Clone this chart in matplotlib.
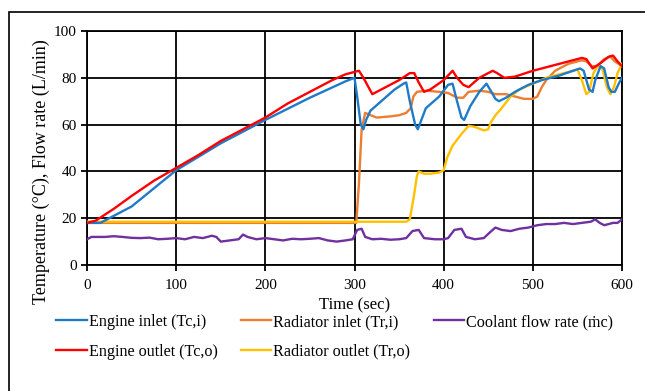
import matplotlib
matplotlib.use("Agg")
import matplotlib.pyplot as plt
from matplotlib.patches import Rectangle

plt.rcParams["font.family"] = ["Liberation Serif", "DejaVu Serif"]

# Engine inlet (Tc,i)
t_ei = [0, 15, 20, 50, 100, 150, 200, 250, 290, 300, 303, 307, 310, 313, 318, 330, 345, 355, 358,
        362, 368, 371, 375, 380, 395, 405, 410, 415, 420, 423, 430, 440, 448, 452, 458, 462, 470,
        480, 495, 510, 530, 545, 553, 557, 563, 567, 570, 576, 580, 585, 588, 592, 597, 600]
v_ei = [18, 18, 19, 25, 40.5, 52, 62, 71.5, 78.5, 80, 72, 60, 58, 62, 66, 70, 75, 77.5, 78,
        70, 60, 58, 62, 67, 72, 77, 77.5, 70, 63, 62, 68, 74, 77.5, 75, 71, 70, 71.5,
        74, 77, 79, 81, 83, 84, 83, 75, 74, 79, 85, 84, 76, 74, 74, 78, 80]

# Engine outlet (Tc,o)
t_eo = [0, 10, 30, 50, 75, 100, 125, 150, 175, 200, 225, 250, 275, 290, 300, 305, 310, 320, 330,
        350, 362, 367, 372, 378, 385, 400, 410, 415, 422, 428, 440, 455, 460, 468, 480, 500, 520,
        540, 555, 560, 567, 575, 585, 590, 595, 600]
v_eo = [18, 19, 24, 29.5, 36, 41.5, 47, 53, 58, 63, 69, 74, 79, 81.5, 82.5, 83, 80, 73, 75,
        79, 82, 82, 78, 74, 75, 79, 83, 80, 77, 76, 80, 83, 82, 80, 80.5, 83, 85,
        87, 88.5, 88, 84, 86, 89, 89.5, 87, 85]

# Radiator inlet (Tr,i)
t_ri = [0, 302, 305, 308, 312, 318, 325, 340, 350, 358, 363, 366, 370, 380, 395, 405, 415, 422,
        428, 440, 450, 458, 470, 480, 490, 500, 505, 510, 515, 525, 540, 555, 560, 566, 572, 580,
        587, 592, 600]
v_ri = [18, 18, 35, 58, 65, 64, 63, 63.5, 64, 65, 67, 72, 74, 74.5, 74, 73.5, 71.5, 71.5,
        74, 74.5, 74, 73, 73, 72, 71, 71, 72, 76, 79, 83, 86, 87.5, 87, 85, 85, 88,
        89, 87, 85]

# Radiator outlet (Tr,o)
t_ro = [0, 358, 362, 366, 370, 372, 378, 385, 395, 400, 404, 410, 420, 428, 435, 445, 450, 453,
        458, 465, 475, 485, 500, 515, 530, 545, 550, 555, 560, 563, 568, 573, 578, 583, 587, 591,
        595, 600]
v_ro = [18.5, 18.5, 19.5, 28, 38, 40, 39, 39, 39.5, 40.5, 46, 51, 56, 59.5, 59, 57.5, 58, 61,
        64, 67, 72, 75, 77.5, 80, 81.5, 83, 83.5, 79, 73, 74, 82, 85, 84, 76, 73, 76,
        82, 86]

# Coolant flow rate
t_fl = [0, 5, 10, 20, 30, 40, 50, 60, 70, 80, 90, 100, 110, 120, 130, 140, 145, 150, 160, 170,
        175, 180, 190, 200, 210, 220, 230, 240, 250, 260, 270, 280, 290, 298, 303, 308, 312, 320,
        330, 340, 350, 358, 365, 372, 378, 390, 400, 405, 412, 420, 425, 435, 445, 452, 458, 465,
        475, 485, 495, 505, 515, 525, 535, 545, 555, 565, 570, 575, 580, 590, 595, 600]
v_fl = [11, 12, 12, 12, 12.3, 12, 11.6, 11.5, 11.7, 11, 11.2, 11.5, 11, 12, 11.5, 12.5, 12, 10, 10.5, 11,
        13, 12, 11, 11.5, 11, 10.5, 11.2, 11, 11.2, 11.5, 10.5, 10, 10.5, 11, 15, 15.5, 12, 11,
        11.2, 10.8, 11, 11.5, 14.5, 15, 11.5, 11, 11, 11.5, 15, 15.5, 12, 11, 11.5, 14, 16, 15,
        14.5, 15.5, 16, 17, 17.5, 17.5, 18, 17.5, 18, 18.5, 19.5, 18, 17, 18, 18, 19.5]

fig = plt.figure(figsize=(6.45, 3.91), dpi=100)
ax = fig.add_axes([87 / 645, 1 - 265 / 391, 535 / 645, 234 / 391])

lw = 1.7
ax.plot(t_ei, v_ei, color="#1f7bc8", lw=lw, label="Engine inlet (Tc,i)", zorder=4)
ax.plot(t_eo, v_eo, color="#ff0000", lw=lw, label="Engine outlet (Tc,o)", zorder=5)
ax.plot(t_ri, v_ri, color="#ed7d31", lw=lw, label="Radiator inlet (Tr,i)", zorder=3)
ax.plot(t_ro, v_ro, color="#ffc000", lw=lw, label="Radiator outlet (Tr,o)", zorder=3)
ax.plot(t_fl, v_fl, color="#7030a0", lw=lw, label="Coolant flow rate (ṁc)", zorder=3)

ax.set_xlim(0, 600)
ax.set_ylim(0, 100)
ax.set_xticks(range(0, 601, 100))
ax.set_yticks(range(0, 101, 20))
ax.grid(True, color="black", lw=1.3)
for s in ax.spines.values():
    s.set_color("black")
    s.set_linewidth(1.3)
ax.tick_params(labelsize=11, length=4, width=1.3, direction="out")
ax.tick_params(axis="x", pad=6)
ax.set_xlabel("Time (sec)", fontsize=12, labelpad=4)
ax.set_ylabel("Temperature (°C), Flow rate (L/min)", fontsize=13)
ax.yaxis.set_label_coords(-0.07, 0.40)

fig.legend(loc="upper left", bbox_to_anchor=(56 / 645, 1 - 314 / 391), ncol=3, frameon=False,
           fontsize=11.6, handlelength=1.9, handletextpad=0.12, columnspacing=1.45,
           labelspacing=0.85, borderaxespad=0, borderpad=0)

fig.patches.append(Rectangle((9 / 645, -0.1), 1.2, 1.1 - 12 / 391, transform=fig.transFigure,
                             fill=False, edgecolor="black", lw=1.2))

fig.savefig("out.png", dpi=100)
